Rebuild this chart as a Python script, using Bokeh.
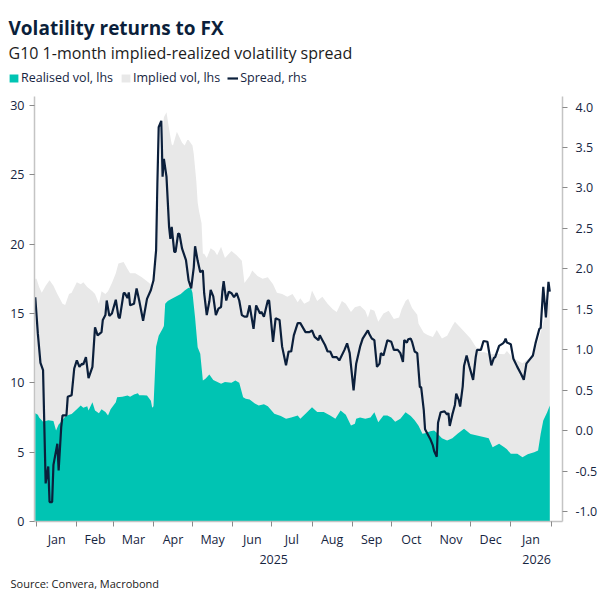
import pandas as pd
from datetime import datetime
from bokeh.plotting import figure
from bokeh.layouts import column
from bokeh.models import (Range1d, LinearAxis, FixedTicker, SingleIntervalTicker,
                          NumeralTickFormatter, Legend, LegendItem, Title, Label)
from bokeh.embed import file_html
from bokeh.resources import INLINE

FONT = "Open Sans"
TXT = "#16253f"
TEAL = "#00c4b3"
GREY = "#e8e8e8"
NAVY = "#0b1f3b"

# ---------------- data ----------------
implied_dates = [
    "2024-12-31", "2025-01-01", "2025-01-02", "2025-01-03", "2025-01-05", "2025-01-08", "2025-01-11",
    "2025-01-14", "2025-01-17", "2025-01-21", "2025-01-23", "2025-01-26", "2025-01-28", "2025-02-01",
    "2025-02-04", "2025-02-06", "2025-02-09", "2025-02-13", "2025-02-15", "2025-02-18", "2025-02-20",
    "2025-02-23", "2025-02-25", "2025-02-28", "2025-03-03", "2025-03-05", "2025-03-09", "2025-03-12",
    "2025-03-14", "2025-03-17", "2025-03-18", "2025-03-23", "2025-03-28", "2025-03-31", "2025-04-01",
    "2025-04-02", "2025-04-05", "2025-04-06", "2025-04-07", "2025-04-09", "2025-04-11", "2025-04-13",
    "2025-04-15", "2025-04-16", "2025-04-19", "2025-04-23", "2025-04-25", "2025-04-27", "2025-04-28",
    "2025-05-01", "2025-05-02", "2025-05-04", "2025-05-05", "2025-05-06", "2025-05-08", "2025-05-09",
    "2025-05-10", "2025-05-12", "2025-05-15", "2025-05-18", "2025-05-20", "2025-05-23", "2025-05-26",
    "2025-05-31", "2025-06-04", "2025-06-08", "2025-06-10", "2025-06-14", "2025-06-16", "2025-06-20",
    "2025-06-24", "2025-06-28", "2025-07-02", "2025-07-05", "2025-07-09", "2025-07-13", "2025-07-17",
    "2025-07-21", "2025-07-23", "2025-07-26", "2025-07-30", "2025-08-01", "2025-08-05", "2025-08-09",
    "2025-08-13", "2025-08-17", "2025-08-20", "2025-08-24", "2025-08-27", "2025-08-31", "2025-09-03",
    "2025-09-07", "2025-09-11", "2025-09-13", "2025-09-15", "2025-09-18", "2025-09-21", "2025-09-25",
    "2025-09-29", "2025-10-03", "2025-10-07", "2025-10-09", "2025-10-12", "2025-10-14", "2025-10-17",
    "2025-10-21", "2025-10-22", "2025-10-23", "2025-10-26", "2025-10-29", "2025-11-02", "2025-11-05",
    "2025-11-09", "2025-11-13", "2025-11-17", "2025-11-19", "2025-11-23", "2025-11-28", "2025-12-01",
    "2025-12-05", "2025-12-09", "2025-12-12", "2025-12-16", "2025-12-21", "2025-12-27", "2025-12-29",
    "2026-01-02", "2026-01-06", "2026-01-10", "2026-01-14", "2026-01-18", "2026-01-20", "2026-01-23",
    "2026-01-25", "2026-01-28", "2026-01-30", "2026-01-31",
]
implied_vol = [
    17.5, 17.5, 17.2, 16.9, 16.5, 17.0, 17.4,
    17.0, 16.4, 15.7, 15.6, 16.4, 16.5, 17.25,
    17.1, 17.25, 16.9, 16.6, 16.4, 15.7, 16.6,
    16.4, 16.6, 17.2, 17.9, 18.6, 18.7, 18.2,
    17.9, 17.9, 17.9, 17.6, 17.25, 17.0, 16.9,
    19.1, 23.1, 26.3, 27.0, 29.15, 29.5, 28.3,
    27.2, 27.1, 28.1, 27.3, 27.1, 27.5, 27.5,
    27.1, 26.5, 24.5, 23.0, 22.4, 21.5, 19.3,
    19.3, 19.0, 19.7, 19.5, 19.2, 19.8, 19.0,
    19.5, 19.2, 18.8, 17.2, 17.7, 18.1, 17.7,
    17.5, 17.6, 17.1, 16.5, 16.4, 16.2, 16.4,
    15.8, 16.1, 15.7, 15.9, 16.65, 15.9, 16.2,
    15.7, 15.3, 15.1, 15.9, 15.7, 15.1, 15.45,
    15.55, 15.2, 14.7, 15.3, 15.2, 14.4, 15.0,
    15.2, 14.6, 14.7, 15.3, 15.9, 16.05, 15.4,
    14.9, 14.25, 14.1, 13.6, 13.45, 13.3, 13.8,
    13.2, 13.4, 14.1, 14.4, 14.0, 13.5, 13.2,
    12.6, 12.2, 12.2, 12.05, 12.1, 12.05, 12.3,
    11.85, 11.6, 11.4, 11.7, 11.85, 12.45, 13.3,
    14.0, 15.0, 15.8, 16.0,
]

realised_dates = [
    "2024-12-31", "2025-01-02", "2025-01-03", "2025-01-06", "2025-01-10", "2025-01-14", "2025-01-16",
    "2025-01-18", "2025-01-21", "2025-01-23", "2025-01-26", "2025-01-28", "2025-02-01", "2025-02-04",
    "2025-02-06", "2025-02-09", "2025-02-10", "2025-02-13", "2025-02-15", "2025-02-18", "2025-02-20",
    "2025-02-23", "2025-02-25", "2025-02-27", "2025-03-03", "2025-03-04", "2025-03-08", "2025-03-12",
    "2025-03-14", "2025-03-17", "2025-03-20", "2025-03-21", "2025-03-24", "2025-03-27", "2025-03-30",
    "2025-03-31", "2025-04-01", "2025-04-03", "2025-04-05", "2025-04-08", "2025-04-09", "2025-04-10",
    "2025-04-12", "2025-04-14", "2025-04-18", "2025-04-22", "2025-04-25", "2025-04-28", "2025-04-30",
    "2025-05-01", "2025-05-03", "2025-05-05", "2025-05-07", "2025-05-09", "2025-05-11", "2025-05-14",
    "2025-05-17", "2025-05-23", "2025-05-26", "2025-05-31", "2025-06-03", "2025-06-06", "2025-06-09",
    "2025-06-11", "2025-06-14", "2025-06-18", "2025-06-21", "2025-06-25", "2025-06-28", "2025-07-03",
    "2025-07-08", "2025-07-12", "2025-07-16", "2025-07-21", "2025-07-23", "2025-07-27", "2025-08-01",
    "2025-08-05", "2025-08-10", "2025-08-15", "2025-08-19", "2025-08-23", "2025-08-27", "2025-08-31",
    "2025-09-03", "2025-09-04", "2025-09-07", "2025-09-11", "2025-09-15", "2025-09-18", "2025-09-21",
    "2025-09-25", "2025-09-28", "2025-10-01", "2025-10-04", "2025-10-08", "2025-10-12", "2025-10-16",
    "2025-10-19", "2025-10-22", "2025-10-25", "2025-10-27", "2025-10-31", "2025-11-03", "2025-11-05",
    "2025-11-09", "2025-11-13", "2025-11-17", "2025-11-21", "2025-11-26", "2025-12-01", "2025-12-06",
    "2025-12-11", "2025-12-15", "2025-12-18", "2025-12-23", "2025-12-27", "2025-12-29", "2026-01-01",
    "2026-01-06", "2026-01-10", "2026-01-14", "2026-01-19", "2026-01-22", "2026-01-24", "2026-01-26",
    "2026-01-29", "2026-01-31",
]
realised_vol = [
    7.8, 7.7, 7.5, 7.2, 7.3, 7.25, 6.56,
    7.0, 7.3, 7.57, 7.7, 7.75, 8.1, 8.36,
    8.2, 8.3, 8.0, 8.6, 8.0, 7.81, 8.1,
    7.9, 7.64, 8.1, 8.6, 8.96, 9.0, 9.08,
    9.0, 9.15, 9.25, 9.1, 9.1, 9.08, 8.7,
    8.2, 8.3, 12.6, 13.4, 13.9, 14.1, 15.7,
    15.9, 16.0, 16.2, 16.4, 16.65, 16.85, 16.8,
    16.5, 14.7, 12.57, 12.1, 10.17, 10.3, 10.6,
    10.2, 9.93, 10.05, 10.0, 10.17, 10.0, 8.96,
    8.85, 8.8, 8.5, 8.36, 8.45, 8.3, 7.77,
    7.6, 7.4, 7.5, 7.64, 7.4, 7.77, 8.24,
    7.9, 7.9, 7.64, 7.4, 8.0, 7.7, 6.92,
    7.04, 7.4, 7.5, 7.4, 7.5, 7.88, 7.16,
    7.64, 7.64, 7.5, 7.2, 7.4, 7.88, 7.6,
    7.3, 6.9, 6.32, 6.37, 6.5, 6.56, 6.4,
    6.0, 5.84, 6.0, 6.32, 6.68, 6.3, 6.2,
    6.1, 6.0, 5.36, 5.6, 5.36, 5.2, 4.88,
    4.88, 4.64, 4.85, 5.0, 5.12, 6.32, 7.28,
    7.88, 8.36,
]

spread_dates = [
    "2024-12-31", "2025-01-02", "2025-01-04", "2025-01-06", "2025-01-08", "2025-01-10", "2025-01-11",
    "2025-01-13", "2025-01-14", "2025-01-17", "2025-01-18", "2025-01-20", "2025-01-21", "2025-01-24",
    "2025-01-25", "2025-01-28", "2025-01-30", "2025-02-01", "2025-02-03", "2025-02-05", "2025-02-06",
    "2025-02-08", "2025-02-10", "2025-02-13", "2025-02-15", "2025-02-17", "2025-02-20", "2025-02-21",
    "2025-02-23", "2025-02-24", "2025-02-26", "2025-02-28", "2025-03-03", "2025-03-05", "2025-03-06",
    "2025-03-09", "2025-03-10", "2025-03-12", "2025-03-13", "2025-03-14", "2025-03-17", "2025-03-19",
    "2025-03-21", "2025-03-24", "2025-03-27", "2025-03-30", "2025-04-01", "2025-04-03", "2025-04-04",
    "2025-04-05", "2025-04-07", "2025-04-08", "2025-04-09", "2025-04-11", "2025-04-13", "2025-04-14",
    "2025-04-15", "2025-04-17", "2025-04-18", "2025-04-20", "2025-04-21", "2025-04-23", "2025-04-26",
    "2025-04-28", "2025-04-30", "2025-05-02", "2025-05-03", "2025-05-05", "2025-05-07", "2025-05-09",
    "2025-05-10", "2025-05-12", "2025-05-14", "2025-05-15", "2025-05-17", "2025-05-19", "2025-05-21",
    "2025-05-23", "2025-05-24", "2025-05-25", "2025-05-27", "2025-05-29", "2025-05-31", "2025-06-02",
    "2025-06-04", "2025-06-06", "2025-06-08", "2025-06-10", "2025-06-12", "2025-06-14", "2025-06-17",
    "2025-06-19", "2025-06-22", "2025-06-23", "2025-06-25", "2025-06-28", "2025-06-29", "2025-07-02",
    "2025-07-04", "2025-07-07", "2025-07-09", "2025-07-12", "2025-07-14", "2025-07-16", "2025-07-18",
    "2025-07-21", "2025-07-23", "2025-07-27", "2025-07-30", "2025-08-01", "2025-08-03", "2025-08-06",
    "2025-08-07", "2025-08-09", "2025-08-11", "2025-08-13", "2025-08-15", "2025-08-17", "2025-08-20",
    "2025-08-22", "2025-08-26", "2025-08-28", "2025-08-30", "2025-09-02", "2025-09-04", "2025-09-07",
    "2025-09-09", "2025-09-13", "2025-09-14", "2025-09-16", "2025-09-18", "2025-09-20", "2025-09-22",
    "2025-09-23", "2025-09-25", "2025-09-28", "2025-10-01", "2025-10-03", "2025-10-06", "2025-10-08",
    "2025-10-10", "2025-10-11", "2025-10-13", "2025-10-14", "2025-10-16", "2025-10-17", "2025-10-19",
    "2025-10-21", "2025-10-23", "2025-10-24", "2025-10-26", "2025-10-27", "2025-10-31", "2025-11-02",
    "2025-11-03", "2025-11-05", "2025-11-06", "2025-11-08", "2025-11-11", "2025-11-13", "2025-11-14",
    "2025-11-15", "2025-11-17", "2025-11-19", "2025-11-20", "2025-11-22", "2025-11-23", "2025-11-25",
    "2025-11-26", "2025-11-28", "2025-11-30", "2025-12-03", "2025-12-05", "2025-12-06", "2025-12-09",
    "2025-12-11", "2025-12-14", "2025-12-17", "2025-12-19", "2025-12-20", "2025-12-23", "2025-12-26",
    "2025-12-27", "2025-12-28", "2025-12-29", "2026-01-01", "2026-01-03", "2026-01-06", "2026-01-09",
    "2026-01-11", "2026-01-13", "2026-01-15", "2026-01-18", "2026-01-20", "2026-01-23", "2026-01-24",
    "2026-01-26", "2026-01-28", "2026-01-30", "2026-01-31",
]
spread = [
    1.65, 1.20, 0.84, 0.75, -0.65, -0.44, -0.88,
    -0.88, -0.42, -0.16, -0.49, 0.05, 0.19, 0.19,
    0.42, 0.44, 0.77, 0.87, 0.79, 0.83, 0.82,
    0.91, 0.65, 0.79, 1.28, 1.18, 1.22, 1.37,
    1.43, 1.61, 1.42, 1.45, 1.62, 1.41, 1.39,
    1.70, 1.70, 1.64, 1.71, 1.55, 1.57, 1.76,
    1.61, 1.36, 1.63, 1.74, 1.86, 2.23, 3.05,
    3.75, 3.83, 3.14, 3.36, 3.14, 2.52, 2.37,
    2.52, 2.21, 2.21, 2.44, 2.43, 2.25, 2.11,
    1.86, 1.76, 2.02, 2.28, 2.10, 1.96, 1.98,
    1.70, 1.43, 1.60, 1.74, 1.66, 1.43, 1.51,
    1.53, 1.72, 1.85, 1.61, 1.72, 1.70, 1.65,
    1.70, 1.61, 1.43, 1.41, 1.41, 1.55, 1.26,
    1.55, 1.45, 1.47, 1.41, 1.61, 1.61, 1.10,
    1.39, 1.37, 1.04, 0.81, 0.98, 0.98, 1.18,
    1.33, 1.33, 1.22, 1.22, 1.24, 1.16, 1.12,
    1.18, 1.12, 1.06, 0.98, 0.98, 0.91, 0.91,
    0.87, 1.00, 1.08, 0.96, 0.50, 0.83, 1.04,
    1.14, 1.24, 1.20, 1.14, 1.12, 0.79, 0.83,
    0.96, 0.93, 1.12, 1.10, 1.00, 1.00, 0.96,
    0.85, 1.12, 1.09, 1.13, 1.14, 1.10, 0.98,
    0.96, 0.54, 0.54, 0.26, 0.02, -0.10, -0.18,
    -0.25, -0.32, 0.10, 0.23, 0.24, 0.20, 0.22,
    0.06, 0.20, 0.32, 0.46, 0.38, 0.30, 0.55,
    0.80, 0.93, 0.80, 0.63, 0.91, 1.00, 1.00,
    1.11, 1.10, 0.81, 0.90, 0.91, 1.05, 1.08,
    1.10, 1.14, 1.09, 1.07, 0.89, 0.79, 0.70,
    0.63, 0.83, 0.87, 0.93, 1.08, 1.26, 1.27,
    1.78, 1.40, 1.84, 1.72,
]

month_labels = ["Jan", "Feb", "Mar", "Apr", "May", "Jun", "Jul", "Aug", "Sep", "Oct", "Nov", "Dec", "Jan"]
year_labels = ["2025", "2026"]
legend_labels = ["Realised vol, lhs", "Implied vol, lhs", "Spread, rhs"]

title_text = "Volatility returns to FX"
subtitle_text = "G10 1-month implied-realized volatility spread"
source_text = "Source: Convera, Macrobond"

# ---------------- header (title, subtitle, legend) ----------------
HEAD_H = 96
head = figure(width=605, height=HEAD_H, output_backend="svg", toolbar_location=None,
              x_range=Range1d(0, 605), y_range=Range1d(HEAD_H, 0),
              x_axis_location=None, y_axis_location=None, title_location=None)
head.frame_align = False
head.outline_line_color = None
head.grid.visible = False
head.min_border = 0
head.min_border_left = head.min_border_right = head.min_border_top = head.min_border_bottom = 0

head.add_layout(Label(x=8, y=27, text=title_text, text_font=FONT, text_font_size="19px",
                      text_font_style="bold", text_color=NAVY, text_baseline="alphabetic"))
head.add_layout(Label(x=8, y=52, text=subtitle_text, text_font=FONT, text_font_size="16px",
                      text_color="#1c1c1c", text_baseline="alphabetic"))

# legend-only renderers (single degenerate point, draws nothing in the header)
h_real = head.varea(x=[-50], y1=[0], y2=[0], fill_color=TEAL)
h_imp = head.varea(x=[-50], y1=[0], y2=[0], fill_color=GREY)
h_spr = head.line(x=[-50], y=[0], line_color=NAVY, line_width=2.2)
legend = Legend(items=[LegendItem(label=legend_labels[0], renderers=[h_real]),
                       LegendItem(label=legend_labels[1], renderers=[h_imp]),
                       LegendItem(label=legend_labels[2], renderers=[h_spr])],
                orientation="horizontal", location=(8, 10))
legend.border_line_color = None
legend.background_fill_alpha = 0
legend.label_text_font = FONT
legend.label_text_font_size = "12.5px"
legend.label_text_color = TXT
legend.glyph_width = 11
legend.glyph_height = 10
legend.label_height = 14
legend.label_standoff = 2
legend.spacing = 7
legend.padding = 0
legend.margin = 0
head.add_layout(legend)

# ---------------- main chart ----------------
x_start = datetime(2024, 12, 30, 10)
x_end = datetime(2026, 2, 9, 19)

p = figure(frame_width=528, frame_height=425, output_backend="svg", toolbar_location=None,
           x_axis_type="datetime", x_axis_location=None, y_axis_location=None,
           title_location=None,
           x_range=Range1d(x_start, x_end), y_range=Range1d(0, 30.64))
p.frame_align = False
p.extra_y_ranges = {"rhs": Range1d(-1.12, 4.13)}
p.outline_line_color = None
p.grid.visible = False
p.background_fill_color = "white"
p.border_fill_color = "white"
p.min_border_left = 34
p.min_border_right = 43
p.min_border_top = 0
p.min_border_bottom = 0

idates = pd.to_datetime(implied_dates)
rdates = pd.to_datetime(realised_dates)
sdates = pd.to_datetime(spread_dates)

r_imp = p.varea(x=idates, y1=0, y2=implied_vol, fill_color=GREY)
r_real = p.varea(x=rdates, y1=0, y2=realised_vol, fill_color=TEAL)
r_spr = p.line(x=sdates, y=spread, y_range_name="rhs", line_color=NAVY, line_width=2.2)

def style_axis(ax):
    ax.axis_line_color = "#c4c4c4"
    ax.axis_line_width = 1.5
    ax.major_tick_line_color = "#8a8a8a"
    ax.minor_tick_line_color = "#8a8a8a"
    ax.major_label_text_font = FONT
    ax.major_label_text_font_size = "12.5px"
    ax.major_label_text_color = TXT

ax_l = LinearAxis(ticker=SingleIntervalTicker(interval=5), formatter=NumeralTickFormatter(format="0"))
style_axis(ax_l)
ax_l.major_tick_out = 5
ax_l.major_tick_in = 0
ax_l.minor_tick_out = 0
ax_l.major_label_standoff = 5
p.add_layout(ax_l, "left")

ax_r = LinearAxis(y_range_name="rhs", ticker=SingleIntervalTicker(interval=0.5),
                  formatter=NumeralTickFormatter(format="0.0"))
style_axis(ax_r)
ax_r.major_tick_out = 5
ax_r.major_tick_in = 0
ax_r.minor_tick_out = 0
ax_r.major_label_standoff = 8
p.add_layout(ax_r, "right")

starts = pd.date_range("2025-01-01", "2026-02-01", freq="MS")
mids = [starts[i] + (starts[i + 1] - starts[i]) / 2 for i in range(len(starts) - 1)]
def ms(t):
    return float(pd.Timestamp(t).value // 10**6)
mid_ms = [ms(t) for t in mids]
start_ms = [ms(t) for t in starts]
ax_m = LinearAxis(ticker=FixedTicker(ticks=mid_ms, minor_ticks=start_ms))
style_axis(ax_m)
ax_m.major_tick_out = 0
ax_m.major_tick_in = 0
ax_m.minor_tick_out = 5
ax_m.minor_tick_in = 0
ax_m.major_label_standoff = 4
ax_m.major_label_overrides = {k: v for k, v in zip(mid_ms, month_labels)}
p.add_layout(ax_m, "below")

yr_pos = [ms(pd.Timestamp("2025-01-01") + (pd.Timestamp("2026-01-01") - pd.Timestamp("2025-01-01")) / 2),
          ms(pd.Timestamp("2026-01-01") + (pd.Timestamp(x_end) - pd.Timestamp("2026-01-01")) / 2)]
ax_y = LinearAxis(ticker=FixedTicker(ticks=yr_pos, minor_ticks=[]))
style_axis(ax_y)
ax_y.axis_line_color = None
ax_y.major_tick_line_color = None
ax_y.minor_tick_line_color = None
ax_y.major_tick_out = 0
ax_y.major_tick_in = 0
ax_y.major_label_standoff = 4
ax_y.major_label_overrides = {k: v for k, v in zip(yr_pos, year_labels)}
p.add_layout(ax_y, "below")

src = Title(text=source_text, align="left", offset=-24, text_font=FONT, text_font_size="11px",
            text_font_style="normal", text_color="#1a1a1a", standoff=15)
p.add_layout(src, "below")

layout = column(head, p, spacing=0)
open("out.html", "w").write(file_html(layout, INLINE))
